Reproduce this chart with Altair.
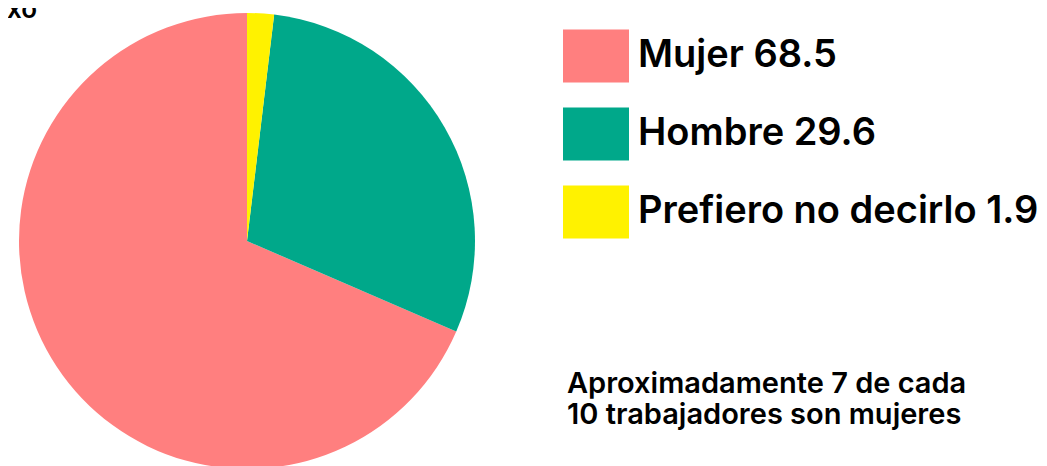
import altair as alt
import pandas as pd

categories = ["Mujer", "Hombre", "Prefiero no decirlo"]
values = [68.5, 29.6, 1.9]
colors = ["#ff7f7f", "#00a88a", "#fff200"]
slice_order = [3, 2, 1]  # clockwise from 12 o'clock: Prefiero, Hombre, Mujer
title_text = "Sexo"
note_lines = ["Aproximadamente 7 de cada", "10 trabajadores son mujeres"]

labels = [f"{c} {v}" for c, v in zip(categories, values)]
df = pd.DataFrame({"label": labels, "value": values, "ord": slice_order})

FONT = "Inter"

pie = alt.Chart(df).mark_arc(outerRadius=228, stroke=None).encode(
    theta=alt.Theta("value:Q", stack=True),
    order=alt.Order("ord:Q"),
    color=alt.Color(
        "label:N",
        scale=alt.Scale(domain=labels, range=colors),
        legend=alt.Legend(
            title=None,
            orient="none",
            legendX=544,
            legendY=10,
            padding=0,
            symbolType="M-1,-0.8H1V0.8H-1Z",
            symbolSize=4356,
            symbolStrokeWidth=0,
            symbolOpacity=1,
            labelFont=FONT,
            labelFontSize=38,
            labelFontWeight=600,
            labelColor="#000000",
            labelLimit=700,
            labelOffset=9,
            rowPadding=18,
        ),
    ),
)

note = alt.Chart(pd.DataFrame({"t": [1]})).mark_text(
    font=FONT, fontSize=29, fontWeight=600, color="#000000",
    align="left", baseline="alphabetic", lineHeight=31,
).encode(
    x=alt.value(548), y=alt.value(380), text=alt.value(note_lines)
)

title = alt.Chart(pd.DataFrame({"t": [1]})).mark_text(
    font=FONT, fontSize=26, fontWeight=600, color="#000000",
    align="right", baseline="alphabetic",
).encode(
    x=alt.value(18), y=alt.value(5), text=alt.value(title_text)
)

chart = alt.layer(pie, note, title).properties(
    width=456, height=456,
    padding={"left": 11, "top": 5, "right": 564, "bottom": 0},
    autosize=alt.AutoSizeParams(type="none"),
).configure_view(stroke=None)

chart.save("out.html", embed_options={"renderer": "svg", "actions": False})
